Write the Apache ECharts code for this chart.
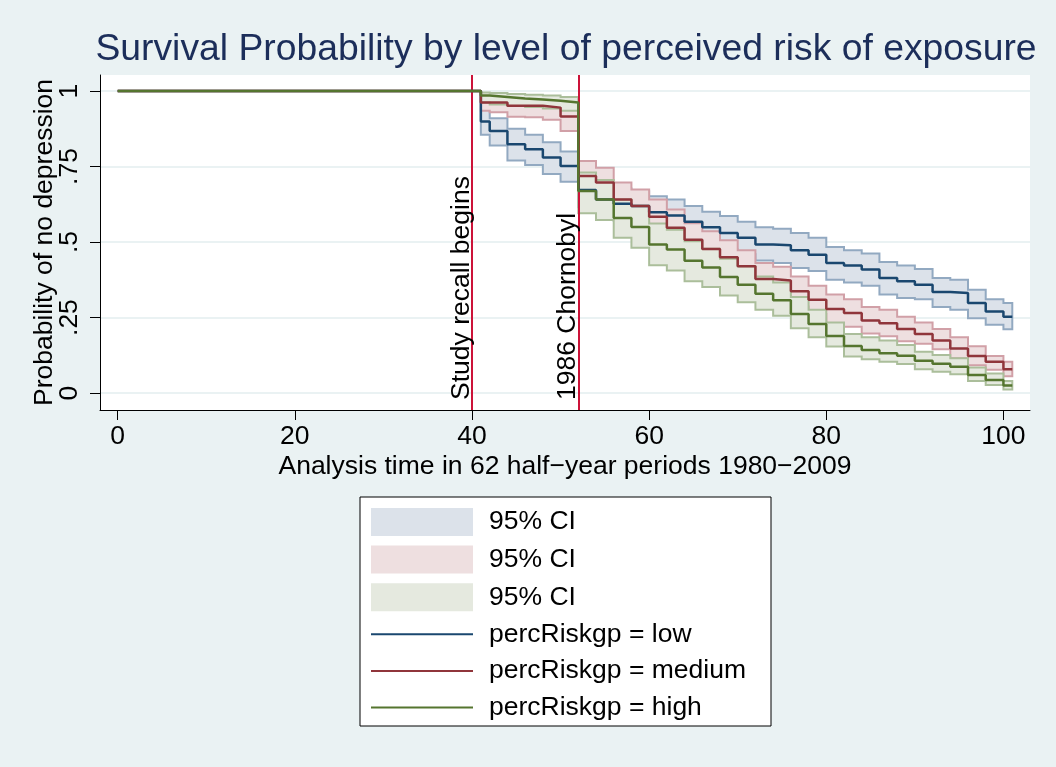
<!DOCTYPE html>
<html><head><meta charset="utf-8">
<script src="https://cdn.jsdelivr.net/npm/echarts@6/dist/echarts.min.js"></script>
<style>html,body{margin:0;padding:0;background:#EAF2F3}#c{width:1056px;height:767px}</style>
</head><body><div id="c"></div>
<script>
const times = [0,41,42,44,46,48,50,52,54,56,58,60,62,64,66,68,70,72,74,76,78,80,82,84,86,88,90,92,94,96,98,100,101];
const lowS  = [1,0.899,0.868,0.824,0.807,0.780,0.752,0.672,0.641,0.627,0.619,0.599,0.588,0.567,0.549,0.530,0.514,0.492,0.489,0.473,0.458,0.431,0.422,0.409,0.381,0.370,0.359,0.335,0.331,0.298,0.270,0.253,0.253];
const lowHi = [1,0.94,0.91,0.875,0.855,0.83,0.80,0.72,0.69,0.677,0.668,0.652,0.641,0.619,0.600,0.586,0.567,0.549,0.544,0.530,0.514,0.484,0.473,0.462,0.434,0.422,0.411,0.381,0.375,0.342,0.311,0.298,0.298];
const lowLo = [1,0.855,0.82,0.77,0.755,0.725,0.70,0.615,0.585,0.57,0.562,0.543,0.532,0.51,0.496,0.475,0.46,0.439,0.431,0.414,0.404,0.375,0.366,0.355,0.326,0.315,0.311,0.285,0.276,0.248,0.226,0.211,0.211];
const medS  = [1,0.962,0.962,0.951,0.951,0.945,0.916,0.719,0.697,0.641,0.619,0.584,0.547,0.508,0.477,0.450,0.420,0.378,0.373,0.337,0.309,0.278,0.265,0.240,0.231,0.212,0.196,0.174,0.148,0.123,0.104,0.079,0.079];
const medHi = [1,0.985,0.985,0.978,0.978,0.973,0.952,0.768,0.746,0.697,0.674,0.641,0.608,0.562,0.536,0.506,0.473,0.431,0.418,0.386,0.355,0.326,0.311,0.285,0.276,0.253,0.234,0.212,0.185,0.155,0.123,0.104,0.104];
const medLo = [1,0.935,0.93,0.915,0.913,0.905,0.868,0.669,0.645,0.59,0.565,0.53,0.495,0.455,0.42,0.395,0.365,0.325,0.322,0.287,0.262,0.232,0.22,0.197,0.188,0.172,0.163,0.145,0.115,0.092,0.077,0.056,0.056];
const highS  = [1,0.985,0.98,0.975,0.972,0.968,0.962,0.669,0.641,0.580,0.550,0.492,0.475,0.438,0.416,0.384,0.359,0.329,0.307,0.262,0.229,0.189,0.156,0.143,0.132,0.124,0.107,0.097,0.087,0.060,0.043,0.025,0.025];
const highHi = [1,0.995,0.993,0.99,0.988,0.985,0.98,0.73,0.705,0.641,0.62,0.561,0.541,0.503,0.478,0.445,0.42,0.386,0.366,0.318,0.276,0.234,0.196,0.185,0.174,0.159,0.137,0.126,0.115,0.085,0.065,0.04,0.04];
const highLo = [1,0.962,0.955,0.95,0.947,0.942,0.935,0.595,0.573,0.514,0.481,0.423,0.406,0.370,0.351,0.323,0.301,0.276,0.256,0.215,0.185,0.154,0.121,0.112,0.104,0.096,0.079,0.071,0.062,0.04,0.027,0.012,0.012];
const xTicks = [0,20,40,60,80,100];
const yTicks = [0,0.25,0.5,0.75,1];
const yTickLabels = ['0','.25','.5','.75','1'];
const events = [{t:40, label:'Study recall begins'},{t:52, label:'1986 Chornobyl'}];
const legendNames = {ci1:'95% CI', ci2:'95% CI', ci3:'95% CI', low:'percRiskgp = low', medium:'percRiskgp = medium', high:'percRiskgp = high'};

const FONT = 'Liberation Sans, Arial, Helvetica, sans-serif';
const FS = 26.5;
const C = {low:'#1A476F', medium:'#90353B', high:'#55752F'};
const chart = echarts.init(document.getElementById('c'));

function band(name, lo, hi, fill, stroke){
  return {
    type:'custom', name, coordinateSystem:'cartesian2d', clip:false, z:1,
    data:[[0,1]], itemStyle:{color:fill},
    renderItem:(params, api)=>{
      const n = times.length, pts = [];
      for(let i=0;i<n;i++){ pts.push(api.coord([times[i],hi[i]])); if(i<n-1) pts.push(api.coord([times[i+1],hi[i]])); }
      for(let i=n-1;i>=0;i--){ if(i<n-1) pts.push(api.coord([times[i+1],lo[i]])); pts.push(api.coord([times[i],lo[i]])); }
      return {type:'polygon', shape:{points:pts}, style:{fill:fill, stroke:stroke, lineWidth:2}};
    }
  };
}
function line(name, vals, color){
  return {type:'line', name, step:'end', symbol:'none', z:3,
    data: times.map((t,i)=>[t, vals[i]]),
    lineStyle:{color, width:2.5}, itemStyle:{color}};
}
const lowLine = line('low', lowS, C.low);
lowLine.markLine = {
  silent:true, symbol:['none','none'], z:2,
  lineStyle:{color:'#CC1339', width:2, type:'solid'},
  label:{show:true, position:'insideStartTop', formatter:p=>p.name, color:'#000', fontSize:FS, fontFamily:FONT, distance:[10,-3]},
  data: events.map(e=>({name:e.label, xAxis:e.t}))
};
function legLine(name){
  return {name, itemStyle:{color:'rgba(0,0,0,0)', borderWidth:0, opacity:0}, lineStyle:{color:C[name], width:2}};
}

chart.setOption({
  backgroundColor:'#EAF2F3',
  animation:false,
  title:{text:'Survival Probability by level of perceived risk of exposure', left:561, textAlign:'center', top:26,
    textStyle:{fontFamily:FONT, fontSize:37.3, fontWeight:'normal', color:'#1C2E5A'}},
  grid:{left:100, right:26, top:75, bottom:357, show:true, backgroundColor:'#fff', borderWidth:0},
  xAxis:{type:'value', min:-2, max:103,
    name:'Analysis time in 62 half\u2212year periods 1980\u22122009', nameLocation:'middle', nameGap:43, nameMoveOverlap:false,
    nameTextStyle:{fontFamily:FONT, fontSize:FS, color:'#000'},
    axisLine:{onZero:false, lineStyle:{color:'#000', width:1}},
    axisTick:{customValues:xTicks, length:10, lineStyle:{color:'#000'}},
    axisLabel:{customValues:xTicks, fontFamily:FONT, fontSize:FS, color:'#000', margin:13},
    splitLine:{show:false}},
  yAxis:{type:'value', min:-0.056, max:1.053,
    name:'Probability of no depression', nameLocation:'middle', nameGap:42, nameRotate:90, nameMoveOverlap:false,
    nameTextStyle:{fontFamily:FONT, fontSize:FS, color:'#000'},
    axisLine:{show:true, onZero:false, lineStyle:{color:'#000', width:1}},
    axisTick:{show:true, customValues:yTicks, length:10, lineStyle:{color:'#000'}},
    axisLabel:{customValues:yTicks, rotate:90, fontFamily:FONT, fontSize:FS, color:'#000', margin:17,
      formatter:v=>yTickLabels[yTicks.indexOf(v)] ?? ''},
    splitLine:{show:true, lineStyle:{color:'#EAF2F3', width:2}}},
  legend:{orient:'vertical', left:360, top:497, selectedMode:false,
    backgroundColor:'#fff', borderColor:'#000', borderWidth:1, borderRadius:0, padding:[11,25,5,10],
    itemWidth:102, itemHeight:28, itemGap:9.6,
    textStyle:{fontFamily:FONT, fontSize:FS, color:'#000', padding:[0,0,0,11]},
    formatter:n=>legendNames[n],
    data:[
      {name:'ci1', icon:'rect', itemStyle:{color:'#DCE2EA', borderWidth:0}},
      {name:'ci2', icon:'rect', itemStyle:{color:'#EEDFE0', borderWidth:0}},
      {name:'ci3', icon:'rect', itemStyle:{color:'#E5E9DF', borderWidth:0}},
      legLine('low'), legLine('medium'), legLine('high')
    ]},
  series:[
    band('ci1', lowLo, lowHi, '#DCE2EA', '#92A9C1'),
    band('ci2', medLo, medHi, '#EEDFE0', '#D1A0A7'),
    band('ci3', highLo, highHi, '#E5E9DF', '#ABBE9B'),
    lowLine,
    line('medium', medS, C.medium),
    line('high', highS, C.high)
  ]
});
</script></body></html>
